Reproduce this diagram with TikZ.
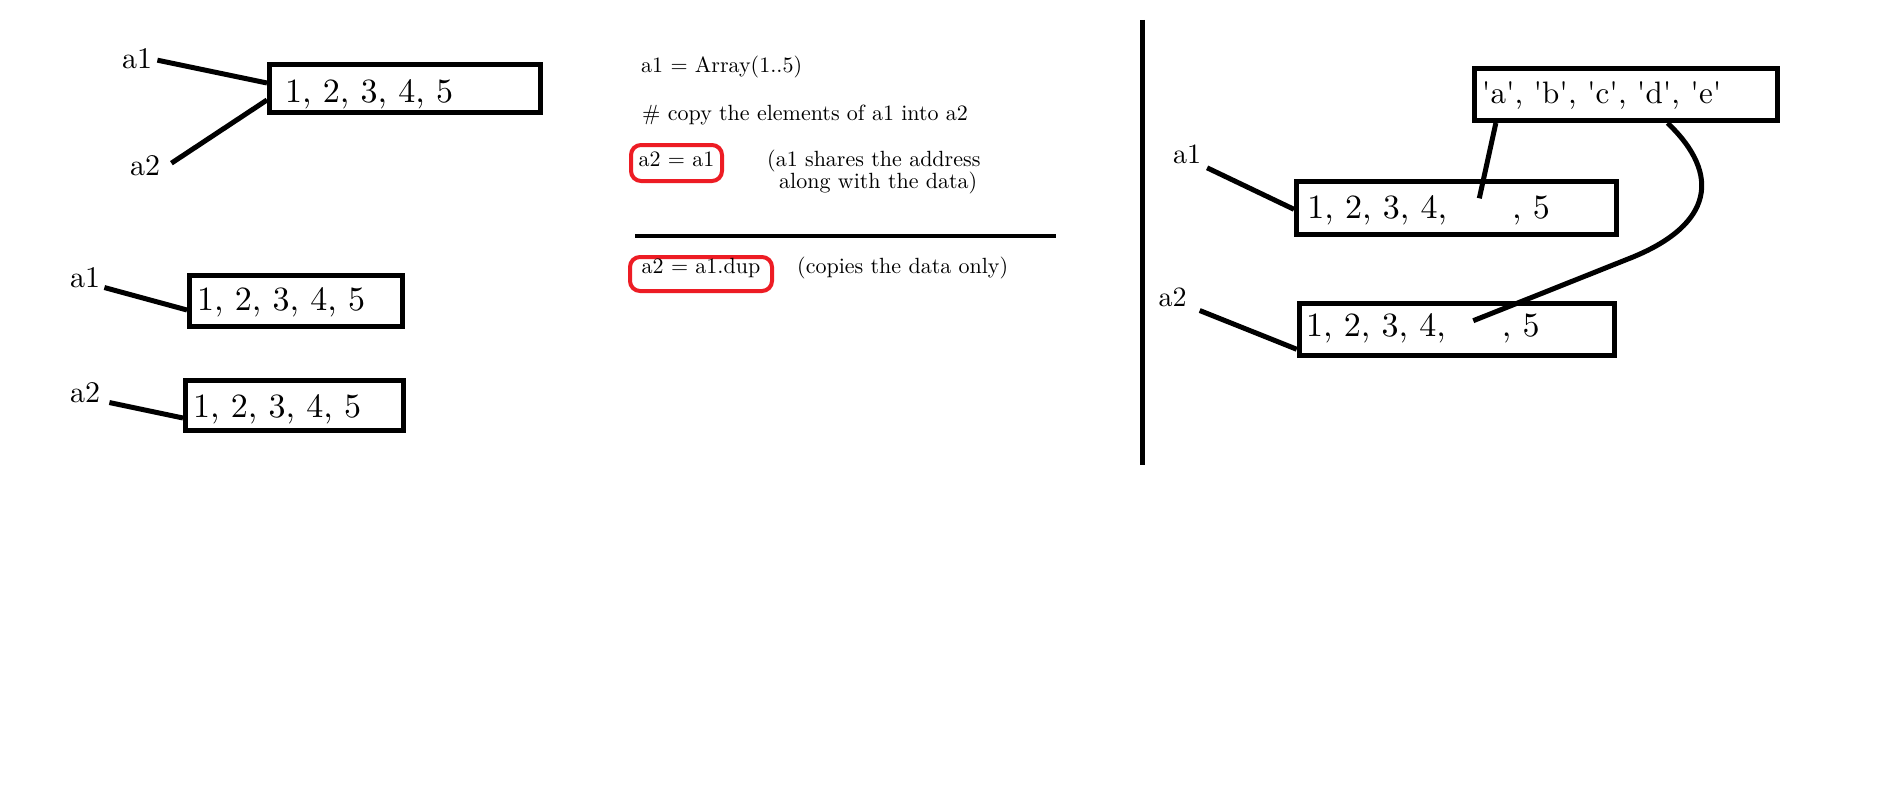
\documentclass[tikz,border=0pt]{standalone}
\usepackage{fontspec}
\setmainfont{lmroman10-regular.otf}
\definecolor{pred}{RGB}{237,28,36}
\newcommand{\sq}{\textquotesingle}
\begin{document}
\begin{tikzpicture}[x=1pt,y=-1pt,
  box/.style={draw, line width=5pt, rectangle, align=left, inner ysep=0pt, text depth=0pt},
  lbl/.style={inner sep=0pt, anchor=base west},
  lmbig/.style={font=\fontsize{34}{40}\selectfont},
  lmlab/.style={font=\fontsize{30}{36}\selectfont},
  rlab/.style={font=\fontsize{28}{34}\selectfont},
  midtxt/.style={font=\fontsize{22}{26}\selectfont},
  conn/.style={line width=5pt},
  redbox/.style={draw=pred, line width=4pt, rounded corners=10pt, inner sep=0pt, align=center}]
\fill[white] (0,0) rectangle (1879,800);
\useasboundingbox (0,0) rectangle (1879,800);

% ---------- left: shared reference ----------
\node[box, lmbig, minimum width=271, minimum height=48, inner xsep=15.5pt, text width=240pt, text height=27pt] (A) at (405,88.5) {1, 2, 3, 4, 5};
\node[lbl, lmlab] (la1) at (122,68) {a1};
\node[lbl, lmlab] (la2) at (130,175) {a2};
\draw[conn] ([shift={(5pt,-2pt)}]la1.east) -- ([yshift=5.5pt]A.west);
\draw[conn] ([shift={(11pt,2pt)}]la2.east) -- ([yshift=-11.5pt]A.west);

% ---------- left: duplicated ----------
\node[box, lmbig, minimum width=213, minimum height=51, inner xsep=7.5pt, text width=198pt, text height=18pt] (B1) at (296,301) {1, 2, 3, 4, 5};
\node[box, lmbig, minimum width=218, minimum height=50, inner xsep=7.5pt, text width=203pt, text height=23pt] (B2) at (294.5,405.5) {1, 2, 3, 4, 5};
\node[lbl, lmlab] (lb1) at (70,287) {a1};
\node[lbl, lmlab] (lb2) at (70,402) {a2};
\draw[conn] ([xshift=4pt]lb1.south east) -- ([yshift=-9pt]B1.west);
\draw[conn] ([xshift=9pt]lb2.south east) -- ([yshift=-12.5pt]B2.west);

% ---------- middle: code ----------
\node[lbl, midtxt] (t1) at (641,73) {a1 = Array(1..5)};
\node[lbl, midtxt] (t2) at (642,120) {\# copy the elements of a1 into a2};
\node[redbox, midtxt, minimum width=91, minimum height=36, text height=6pt, text depth=0pt] (r1) at (676.5,163) {a2 = a1};
\node[lbl, midtxt] (t3) at (767,166) {(a1 shares the address};
\node[lbl, midtxt] (t4) at (779,188) {along with the data)};
\draw[line width=4pt] (635,236) -- (1056,236);
\node[redbox, midtxt, minimum width=142, minimum height=34, text height=0pt, text depth=2pt] (r2) at (701,274) {a2 = a1.dup};
\node[lbl, midtxt] (t5) at (797,273) {(copies the data only)};

% ---------- divider ----------
\draw[line width=5pt] (1142,20) -- (1142,465);

% ---------- right: nested objects ----------
\node[box, font=\fontsize{31}{36}\selectfont, minimum width=303.3, minimum height=52, inner xsep=7.5pt, text width=288pt, text height=17.6pt] (C) at (1625.9,94.5) {\sq a\sq, \sq b\sq, \sq c\sq, \sq d\sq, \sq e\sq};
\node[box, lmbig, minimum width=320.3, minimum height=52.4, inner xsep=10.8pt, text width=298.7pt, text height=20.6pt] (D) at (1456.6,208) {1, 2, 3, 4,\hspace{65pt}, 5};
\node[box, lmbig, minimum width=315, minimum height=51.5, inner xsep=6.8pt, text width=301.4pt, text height=14.9pt] (E) at (1456.7,329.25) {1, 2, 3, 4,\hspace{56pt}, 5};
\node[lbl, rlab] (ra1) at (1173,163.3) {a1};
\node[lbl, rlab] (ra2) at (1158.3,306.7) {a2};
\coordinate (d1) at (1479.3,198.3);
\coordinate (e1) at (1473.3,320.7);
\draw[conn] ([shift={(5.7pt,-4pt)}]ra1.south east) -- ([yshift=-1.3pt]D.west);
\draw[conn] ([shift={(13pt,-3.3pt)}]ra2.south east) -- ([yshift=-20pt]E.west);
\draw[conn] ([xshift=24.1pt]C.south west) -- (d1);
\draw[conn] ([xshift=195.8pt]C.south west) .. controls (1722,175) and (1712,224.4) .. (1633,257) -- (e1);
\end{tikzpicture}
\end{document}
